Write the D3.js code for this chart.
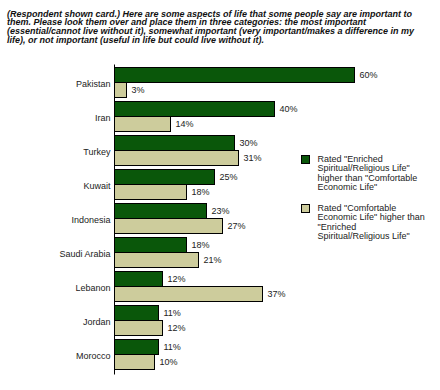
<!DOCTYPE html>
<html>
<head>
<meta charset="utf-8">
<script src="https://cdn.jsdelivr.net/npm/d3@7"></script>
<style>
  body { margin: 0; background: #fff; }
  svg { display: block; font-family: "Liberation Sans", Arial, sans-serif; }
</style>
</head>
<body>
<svg id="chart" width="440" height="390"></svg>
<script>
// chart data
const countries = ["Pakistan", "Iran", "Turkey", "Kuwait", "Indonesia", "Saudi Arabia", "Lebanon", "Jordan", "Morocco"];
const spiritual = [60, 40, 30, 25, 23, 18, 12, 11, 11];
const economic = [3, 14, 31, 18, 27, 21, 37, 12, 10];
const series_keys = ["spiritual", "economic"];
const series_colors = ["#0a570a", "#cdcc9c"];
const legend_labels = [
    ["Rated \"Enriched", "Spiritual/Religious Life\"", "higher than \"Comfortable", "Economic Life\""],
    ["Rated \"Comfortable", "Economic Life\" higher than", "\"Enriched", "Spiritual/Religious Life\""]
];
const title_lines = [
    "(Respondent shown card.) Here are some aspects of life that some people say are important to",
    "them. Please look them over and place them in three categories: the most important",
    "(essential/cannot live without it), somewhat important (very important/makes a difference in my",
    "life), or not important (useful in life but could live without it)."
];

const svg = d3.select("#chart");
const text_color = "#222";

// title
svg.append("text")
    .attr("font-size", "9px")
    .attr("font-weight", "bold")
    .attr("font-style", "italic")
    .attr("fill", "#111")
    .selectAll("tspan")
    .data(title_lines)
    .join("tspan")
    .attr("x", 7)
    .attr("y", (d, i) => 16.5 + i * 8.7)
    .text(d => d);

// scales
const x = d3.scaleLinear().domain([0, 60]).range([114.5, 354.5]);
const y = d3.scaleBand().domain(countries).range([65.5, 371.5])
    .paddingInner(4 / 34).paddingOuter(2 / 34);
const ys = d3.scaleBand().domain(series_keys).range([0, y.bandwidth()]);

const rows = countries.map((c, i) => ({country: c, spiritual: spiritual[i], economic: economic[i]}));

const groups = svg.append("g").selectAll("g")
    .data(rows)
    .join("g")
    .attr("transform", d => `translate(0,${y(d.country)})`);

series_keys.forEach((k, si) => {
    groups.append("rect")
        .attr("x", x(0))
        .attr("y", ys(k))
        .attr("width", d => x(d[k]) - x(0))
        .attr("height", ys.bandwidth())
        .attr("fill", series_colors[si])
        .attr("stroke", "#000")
        .attr("stroke-width", 1);
    groups.append("text")
        .attr("x", d => x(d[k]) + 5)
        .attr("y", ys(k) + ys.bandwidth() / 2 + 3)
        .attr("font-size", "9px")
        .attr("fill", text_color)
        .text(d => d[k] + "%");
});

// category axis
const axis = svg.append("g")
    .attr("transform", `translate(${x(0)},0)`)
    .call(d3.axisLeft(y).tickSize(0).tickPadding(4));
axis.select(".domain").remove();
axis.selectAll("text")
    .attr("font-size", "9px")
    .attr("font-family", "Liberation Sans, Arial, sans-serif")
    .attr("fill", text_color)
    .attr("dy", "0.45em");
svg.append("line")
    .attr("x1", x(0)).attr("x2", x(0))
    .attr("y1", 64.5).attr("y2", 374.5)
    .attr("stroke", "#000");

// legend
const legend = svg.append("g").selectAll("g")
    .data(legend_labels)
    .join("g")
    .attr("transform", (d, i) => `translate(301.5,${155.5 + i * 49})`);
legend.append("rect")
    .attr("width", 8).attr("height", 8)
    .attr("fill", (d, i) => series_colors[i])
    .attr("stroke", "#000");
legend.append("text")
    .attr("font-size", "9px")
    .attr("fill", text_color)
    .selectAll("tspan")
    .data(d => d)
    .join("tspan")
    .attr("x", 16)
    .attr("y", (d, i) => 6 + i * 9.5)
    .text(d => d);
</script>
</body>
</html>
